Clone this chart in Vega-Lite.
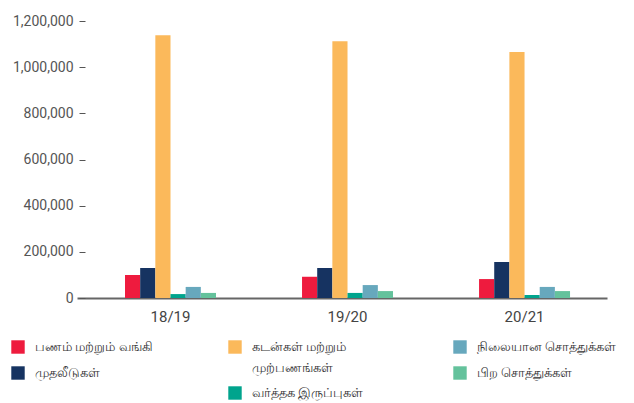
{
  "$schema": "https://vega.github.io/schema/vega-lite/v6.json",
  "autosize": "none",
  "width": 530,
  "height": 277,
  "padding": {"left": 77, "top": 21, "right": 27, "bottom": 105},
  "config": {
    "view": {"stroke": null},
    "font": "Roboto",
    "style": {"guide-label": {"lineHeight": 21}},
    "legend": {"labelFont": "Noto Sans", "labelColor": "#333", "labelFontSize": 13}
  },
  "data": {
    "values": [
      {"year": "18/19", "cat": "பணம் மற்றும் வங்கி", "value": 100000},
      {"year": "18/19", "cat": "முதலீடுகள்", "value": 130000},
      {"year": "18/19", "cat": "கடன்கள் மற்றும் முற்பணங்கள்", "value": 1138000},
      {"year": "18/19", "cat": "வர்த்தக இருப்புகள்", "value": 17000},
      {"year": "18/19", "cat": "நிலையான சொத்துக்கள்", "value": 48000},
      {"year": "18/19", "cat": "பிற சொத்துக்கள்", "value": 22000},
      {"year": "19/20", "cat": "பணம் மற்றும் வங்கி", "value": 92000},
      {"year": "19/20", "cat": "முதலீடுகள்", "value": 130000},
      {"year": "19/20", "cat": "கடன்கள் மற்றும் முற்பணங்கள்", "value": 1112000},
      {"year": "19/20", "cat": "வர்த்தக இருப்புகள்", "value": 22000},
      {"year": "19/20", "cat": "நிலையான சொத்துக்கள்", "value": 56000},
      {"year": "19/20", "cat": "பிற சொத்துக்கள்", "value": 30000},
      {"year": "20/21", "cat": "பணம் மற்றும் வங்கி", "value": 82000},
      {"year": "20/21", "cat": "முதலீடுகள்", "value": 156000},
      {"year": "20/21", "cat": "கடன்கள் மற்றும் முற்பணங்கள்", "value": 1066000},
      {"year": "20/21", "cat": "வர்த்தக இருப்புகள்", "value": 13000},
      {"year": "20/21", "cat": "நிலையான சொத்துக்கள்", "value": 48000},
      {"year": "20/21", "cat": "பிற சொத்துக்கள்", "value": 30000}
    ]
  },
  "encoding": {
    "x": {
      "field": "year", "type": "nominal", "title": null,
      "scale": {"paddingInner": 0.486, "paddingOuter": 0.24, "align": 0.565},
      "axis": {"labelAngle": 0, "ticks": false, "domainColor": "#666", "domainWidth": 2, "labelPadding": 11, "labelFontSize": 15, "labelColor": "#444", "labelFont": "Roboto"}
    },
    "xOffset": {
      "field": "cat", "type": "nominal",
      "scale": {"domain": ["பணம் மற்றும் வங்கி", "முதலீடுகள்", "கடன்கள் மற்றும் முற்பணங்கள்", "வர்த்தக இருப்புகள்", "நிலையான சொத்துக்கள்", "பிற சொத்துக்கள்"]}
    },
    "y": {
      "field": "value", "type": "quantitative", "title": null,
      "scale": {"domain": [0, 1200000], "nice": false},
      "axis": {"values": [0, 200000, 400000, 600000, 800000, 1000000, 1200000], "format": ",d", "grid": false, "domain": false, "offset": -8, "tickSize": 6, "tickColor": "#555", "labelPadding": 6, "labelFontSize": 14, "labelColor": "#555", "labelFont": "Roboto"}
    }
  },
  "layer": [
    {
      "transform": [{"filter": {"field": "cat", "oneOf": ["பணம் மற்றும் வங்கி", "முதலீடுகள்"]}}],
      "mark": "bar",
      "encoding": {
        "color": {
          "field": "cat", "type": "nominal",
          "scale": {"domain": ["பணம் மற்றும் வங்கி", "முதலீடுகள்"], "range": ["#EE1B3E", "#163361"]},
          "legend": {"title": null, "orient": "none", "legendX": -66, "legendY": 319, "direction": "vertical", "symbolType": "square", "symbolSize": 180, "symbolStrokeWidth": 0, "symbolOpacity": 1, "labelOffset": 10, "rowPadding": 12}
        }
      }
    },
    {
      "transform": [{"filter": {"field": "cat", "oneOf": ["கடன்கள் மற்றும் முற்பணங்கள்", "வர்த்தக இருப்புகள்"]}}],
      "mark": "bar",
      "encoding": {
        "color": {
          "field": "cat", "type": "nominal",
          "scale": {"domain": ["கடன்கள் மற்றும் முற்பணங்கள்", "வர்த்தக இருப்புகள்"], "range": ["#FBB95B", "#00A48D"]},
          "legend": {"title": null, "orient": "none", "legendX": 151, "legendY": 319, "direction": "vertical", "symbolType": "square", "symbolSize": 180, "symbolStrokeWidth": 0, "symbolOpacity": 1, "labelOffset": 10, "rowPadding": 11,
            "labelExpr": "datum.label == 'கடன்கள் மற்றும் முற்பணங்கள்' ? ['கடன்கள் மற்றும்', 'முற்பணங்கள்'] : datum.label"}
        }
      }
    },
    {
      "transform": [{"filter": {"field": "cat", "oneOf": ["நிலையான சொத்துக்கள்", "பிற சொத்துக்கள்"]}}],
      "mark": "bar",
      "encoding": {
        "color": {
          "field": "cat", "type": "nominal",
          "scale": {"domain": ["நிலையான சொத்துக்கள்", "பிற சொத்துக்கள்"], "range": ["#67A8BD", "#64C29C"]},
          "legend": {"title": null, "orient": "none", "legendX": 376, "legendY": 319, "direction": "vertical", "symbolType": "square", "symbolSize": 180, "symbolStrokeWidth": 0, "symbolOpacity": 1, "labelOffset": 10, "rowPadding": 12}
        }
      }
    }
  ],
  "resolve": {"scale": {"color": "independent"}}
}
